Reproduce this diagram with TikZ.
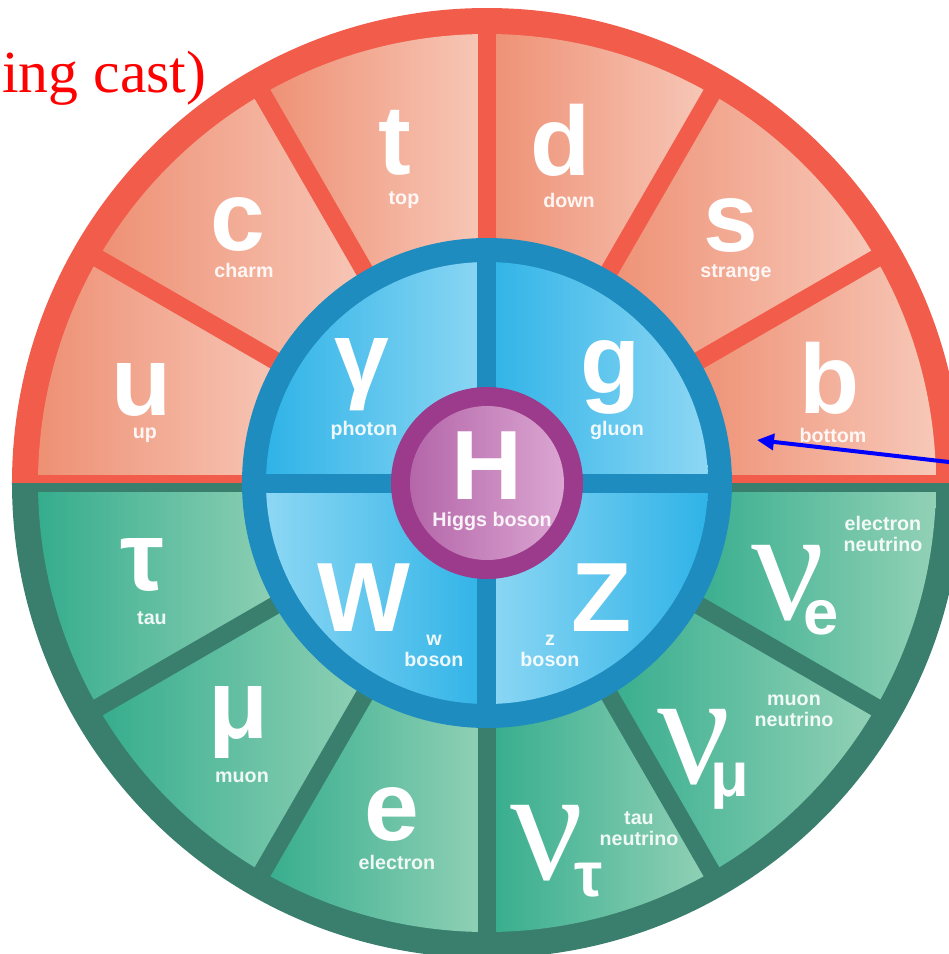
\documentclass[tikz,border=0pt]{standalone}
\usepackage{fontspec}
\setmainfont{Liberation Sans}
\newfontfamily\nufont{Liberation Serif}
\newfontfamily\castfont{Liberation Serif}
\usetikzlibrary{arrows.meta}

% palette
\definecolor{redring}{HTML}{F25C4B}
\definecolor{salmonL}{HTML}{EE9074}
\definecolor{salmonR}{HTML}{F7C8B8}
\definecolor{greenring}{HTML}{3A7F6E}
\definecolor{greenL}{HTML}{35AD8D}
\definecolor{greenR}{HTML}{92D1B6}
\definecolor{bluering}{HTML}{1E8CBF}
\definecolor{blueD}{HTML}{2FB3E7}
\definecolor{blueL}{HTML}{8DD7F4}
\definecolor{purplering}{HTML}{9C3A8B}
\definecolor{purpleL}{HTML}{B466A9}
\definecolor{purpleR}{HTML}{DBA6D2}

% annular sector of the outer ring, shaded left to right
\newcommand\ringsector[4]{%
  \shade[left color=#3, right color=#4]
    (#1:2.3) arc[start angle=#1, end angle=#2, radius=2.3]
    -- (#2:4.49) arc[start angle=#2, end angle=#1, radius=4.49] -- cycle;}
% quarter of the boson disc
\newcommand\bosonquarter[4]{%
  \shade[left color=#3, right color=#4]
    (0,0) -- (#1:2.21) arc[start angle=#1, end angle=#2, radius=2.21] -- cycle;}

\tikzset{
  bigsym/.style={text=white, inner sep=0pt, font=\fontsize{28}{30}\selectfont\bfseries},
  tag/.style={text=white, text opacity=0.9, inner sep=0pt, align=center,
              font=\fontsize{5.6}{6}\selectfont\bfseries},
  nusym/.style={text=white, inner sep=0pt, font=\nufont\fontsize{46}{48}\selectfont},
  subsym/.style={text=white, inner sep=0pt, font=\fontsize{18}{20}\selectfont\bfseries},
  spoke/.style={line width=0.18cm},
  pointer/.style={draw=blue, line width=0.04cm, -{Triangle[length=0.17cm,width=0.16cm]}},
}

\begin{document}
\begin{tikzpicture}
\useasboundingbox (-4.87,-4.71) rectangle (4.62,4.83);
\clip (-4.87,-4.71) rectangle (4.62,4.83);

% outer ring halves
\fill[redring] (4.75,0) arc[start angle=0, end angle=180, radius=4.75] -- cycle;
\fill[greenring] (-4.75,0) arc[start angle=180, end angle=360, radius=4.75] -- cycle;

% quark and lepton segments
\foreach \a in {0,30,...,150} {\ringsector{\a}{\a+30}{salmonL}{salmonR}}
\foreach \a in {180,210,...,330} {\ringsector{\a}{\a+30}{greenL}{greenR}}

% spokes between segments
\foreach \a in {30,60,...,150} {\draw[redring, spoke] (0,0) -- (\a:4.6);}
\foreach \a in {210,240,...,330} {\draw[greenring, spoke] (0,0) -- (\a:4.6);}
\fill[redring] (-4.6,0) rectangle (4.6,0.085);
\fill[greenring] (-4.6,0) rectangle (4.6,-0.09);

% boson disc
\fill[bluering] (0,0) circle (2.45);
\bosonquarter{90}{180}{blueD}{blueL}
\bosonquarter{0}{90}{blueD}{blueL}
\bosonquarter{180}{270}{blueL}{blueD}
\bosonquarter{270}{360}{blueL}{blueD}
\draw[bluering, line width=0.19cm] (-2.3,0) -- (2.3,0);
\draw[bluering, line width=0.19cm] (0,-2.3) -- (0,2.3);

% Higgs disc
\fill[purplering] (0,0) circle (0.96);
\shade[left color=purpleL, right color=purpleR] (0,0) circle (0.77);

% quarks
\node[bigsym] (qu) at (-3.45,0.93) {u};
\node[tag] (qul) at (-3.42,0.48) {up};
\node[bigsym] (qc) at (-2.49,2.59) {c};
\node[tag] (qcl) at (-2.43,2.13) {charm};
\node[bigsym] (qt) at (-0.92,3.40) {t};
\node[tag] (qtl) at (-0.83,2.83) {top};
\node[bigsym] (qd) at (0.74,3.43) {d};
\node[tag] (qdl) at (0.82,2.83) {down};
\node[bigsym] (qs) at (2.44,2.58) {s};
\node[tag] (qsl) at (2.49,2.10) {strange};
\node[bigsym] (qb) at (3.43,1.05) {b};
\node[tag] (qbl) at (3.46,0.48) {bottom};

% bosons
\node[bigsym] (bg) at (-1.25,1.08) {γ};
\node[tag] (bgl) at (-1.23,0.53) {photon};
\node[bigsym] (bgl2) at (1.24,1.06) {g};
\node[tag] (bgll) at (1.30,0.53) {gluon};
\node[bigsym] (bh) at (0,0.17) {H};
\node[tag] (bhl) at (0.05,-0.38) {Higgs boson};
\node[bigsym] (bw) at (-1.23,-1.15) {W};
\node[tag] (bwl) at (-0.53,-1.68) {w\\boson};
\node[bigsym] (bz) at (1.15,-1.15) {Z};
\node[tag] (bzl) at (0.63,-1.68) {z\\boson};

% leptons
\node[bigsym] (ltau) at (-3.45,-0.82) {τ};
\node[tag] (ltaul) at (-3.35,-1.35) {tau};
\node[bigsym] (lmu) at (-2.48,-2.39) {μ};
\node[tag] (lmul) at (-2.45,-2.94) {muon};
\node[bigsym] (le) at (-0.95,-3.31) {e};
\node[tag] (lel) at (-0.90,-3.79) {electron};

% neutrinos
\node[nusym] (ntau) at (0.60,-3.60) {ν};
\node[subsym] (ntaus) at (1.02,-3.97) {τ};
\node[tag] (ntaul) at (1.52,-3.46) {tau\\neutrino};
\node[nusym] (nmu) at (2.07,-2.64) {ν};
\node[subsym] (nmus) at (2.43,-3.03) {μ};
\node[tag] (nmul) at (3.07,-2.28) {muon\\neutrino};
\node[nusym] (ne) at (3.01,-1.00) {ν};
\node[subsym] (nes) at (3.34,-1.35) {e};
\node[tag] (nel) at (3.96,-0.51) {electron\\neutrino};

% caption fragment and pointer
\node[text=red, inner sep=0pt, anchor=base east, font=\castfont\fontsize{17}{19}\selectfont]
  (cast) at (-2.80,3.91) {ing cast)};
\coordinate (ptail) at (4.75,0.195);
\coordinate (ptip) at (2.70,0.43);
\draw[pointer] (ptail) -- (ptip);
\end{tikzpicture}
\end{document}
